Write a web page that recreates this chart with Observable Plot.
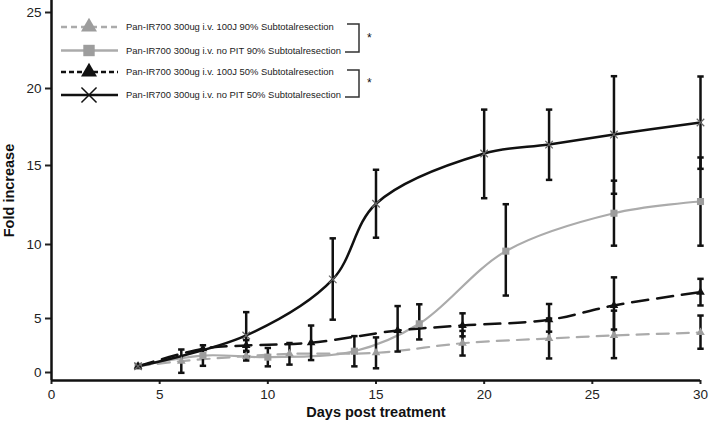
<!DOCTYPE html>
<html><head><meta charset="utf-8">
<script src="https://cdn.jsdelivr.net/npm/d3@7"></script>
<script src="https://cdn.jsdelivr.net/npm/@observablehq/plot@0.6"></script>
<style>
body{margin:0;background:#fff;}
#wrap{position:relative;width:709px;height:429px;font-family:"Liberation Sans",Arial,sans-serif;}
</style></head><body><div id="wrap"></div>
<script>
// ---- data ----
const seriesNames = [
  "Pan-IR700 300ug i.v. 100J 90% Subtotalresection",
  "Pan-IR700 300ug i.v. no PIT 90% Subtotalresection",
  "Pan-IR700 300ug i.v. 100J 50% Subtotalresection",
  "Pan-IR700 300ug i.v. no PIT 50% Subtotalresection"
];
// 100J 90%
const daysA = [4, 6, 9, 11, 15, 19, 23, 26, 30];
const meanA = [0.58, 1.05, 1.51, 1.73, 1.82, 2.71, 3.15, 3.43, 3.7];
const sdA   = [0, 1.08, 0.4, 1.0, 1.43, 1.14, 1.85, 2.1, 1.5];
// no PIT 90%
const daysB = [4, 7, 10, 14, 17, 21, 26, 30];
const meanB = [0.58, 1.57, 1.42, 1.97, 4.51, 9.55, 11.98, 12.72];
const sdB   = [0, 0.95, 0.85, 1.4, 1.45, 3.0, 2.06, 2.8];
// 100J 50%
const daysC = [4, 7, 9, 12, 16, 19, 23, 26, 30];
const meanC = [0.58, 2.2, 2.5, 2.75, 3.89, 4.35, 4.88, 5.88, 6.78];
const sdC   = [0, 0, 0.5, 1.6, 1.95, 1.0, 1.1, 1.9, 0.9];
// no PIT 50%
const daysD = [4, 9, 13, 15, 20, 23, 26, 30];
const meanD = [0.58, 3.43, 7.64, 12.58, 15.78, 16.36, 17.01, 17.79];
const sdD   = [0, 2.0, 2.75, 2.15, 2.85, 2.27, 3.8, 3.0];

const xTicks = [0, 5, 10, 15, 20, 25, 30];
const yTicks = [0, 5, 10, 15, 20, 25];

// ---- build table ----
const raw = [[daysA, meanA, sdA], [daysB, meanB, sdB], [daysC, meanC, sdC], [daysD, meanD, sdD]];
const rows = raw.flatMap(([ds, ms, ss], i) => ds.map((d, j) => ({series: seriesNames[i], day: d, mean: ms[j], sd: ss[j]})));
const bySeries = i => rows.filter(r => r.series === seriesNames[i]);
const withErr = rows.filter(r => r.sd > 0);

// the reference's y axis has uneven tick spacing; reproduce it with a piecewise transform
const yWarp = d3.scaleLinear().domain(yTicks).range([0, 54, 128, 207, 284, 360]);

const GREY = "#ababab", GREYM = "#9d9d9d", BLACK = "#111";
const capSymbol = {draw(ctx, size) { const w = Math.sqrt(size / Math.PI); ctx.moveTo(-w, 0); ctx.lineTo(w, 0); }};

const chart = Plot.plot({
  width: 709, height: 429,
  marginLeft: 51, marginRight: 9, marginTop: 0, marginBottom: 49,
  style: {fontFamily: "Liberation Sans, Arial, sans-serif", color: "#222", background: "#fff"},
  x: {domain: [0, 30]},
  y: {transform: v => yWarp(v), domain: [-8, 372]},
  marks: [
    Plot.axisY({ticks: yTicks.map(yWarp), tickFormat: t => String(Math.round(yWarp.invert(t))), tickSize: 6, tickPadding: 4, fontSize: 13.5, strokeWidth: 2, label: null}),
    Plot.axisX({ticks: xTicks, tickSize: 4, tickPadding: 5, fontSize: 13.5, strokeWidth: 2, label: null}),
    Plot.ruleX([0], {stroke: BLACK, strokeWidth: 2.5}),
    Plot.ruleY([0], {dy: 8, stroke: BLACK, strokeWidth: 2.5}),
    Plot.text(["Fold increase"], {frameAnchor: "left", textAnchor: "middle", rotate: -90, dx: -42, fontWeight: "bold", fontSize: 14.5, fill: "#111"}),
    Plot.text(["Days post treatment"], {frameAnchor: "bottom", lineAnchor: "middle", dy: 32, fontWeight: "bold", fontSize: 14.5, fill: "#111"}),
    // lines
    Plot.line(bySeries(0), {x: "day", y: "mean", stroke: GREY, strokeWidth: 2.2, strokeDasharray: "12,8", curve: "catmull-rom"}),
    Plot.line(bySeries(1), {x: "day", y: "mean", stroke: GREY, strokeWidth: 2.2, curve: "catmull-rom"}),
    Plot.line(bySeries(2), {x: "day", y: "mean", stroke: BLACK, strokeWidth: 2.5, strokeDasharray: "16,9", curve: "catmull-rom"}),
    Plot.line(bySeries(3), {x: "day", y: "mean", stroke: BLACK, strokeWidth: 2.5, curve: "catmull-rom"}),
    // error bars
    Plot.ruleX(withErr, {x: "day", y1: d => d.mean - d.sd, y2: d => d.mean + d.sd, stroke: BLACK, strokeWidth: 2.5}),
    Plot.dot(withErr, {x: "day", y: d => d.mean + d.sd, symbol: capSymbol, r: 3.2, stroke: BLACK, strokeWidth: 2.5}),
    Plot.dot(withErr, {x: "day", y: d => d.mean - d.sd, symbol: capSymbol, r: 3.2, stroke: BLACK, strokeWidth: 2.5}),
    // markers
    Plot.dot(bySeries(0), {x: "day", y: "mean", symbol: "triangle", r: 3.2, fill: GREYM, stroke: "none"}),
    Plot.dot(bySeries(1), {x: "day", y: "mean", symbol: "square", r: 4, fill: GREYM, stroke: "none"}),
    Plot.dot(bySeries(2), {x: "day", y: "mean", symbol: "triangle", r: 3.2, fill: BLACK, stroke: "none"}),
    Plot.dot(bySeries(3), {x: "day", y: "mean", symbol: "times", r: 3.5, stroke: "#666", strokeWidth: 1.2})
  ]
});
const wrap = document.getElementById("wrap");
wrap.appendChild(chart);

// ---- legend overlay ----
const legendStyles = [
  {stroke: GREY, dash: "6,4", sym: d3.symbolTriangle, fill: GREYM, size: 110},
  {stroke: GREY, dash: null, sym: d3.symbolSquare, fill: GREYM, size: 130},
  {stroke: BLACK, dash: "5,3", sym: d3.symbolTriangle, fill: BLACK, size: 110},
  {stroke: BLACK, dash: null, sym: d3.symbolTimes, fill: "none", size: 150}
];
const rowY = [27, 50.5, 72, 95];
const leg = d3.select(wrap).append("svg")
  .attr("width", 400).attr("height", 110)
  .style("position", "absolute").style("left", "0px").style("top", "0px");
const texts = [];
seriesNames.forEach((name, i) => {
  const s = legendStyles[i], y = rowY[i];
  leg.append("line").attr("x1", 61).attr("x2", 118).attr("y1", y).attr("y2", y)
    .attr("stroke", s.stroke).attr("stroke-width", 2.5).attr("stroke-dasharray", s.dash);
  const p = leg.append("path").attr("d", d3.symbol(s.sym, s.size)()).attr("transform", `translate(89,${y})`);
  if (s.fill === "none") p.attr("fill", "none").attr("stroke", BLACK).attr("stroke-width", 1.5);
  else p.attr("fill", s.fill);
  texts.push(leg.append("text").attr("x", 126).attr("y", y).attr("dy", "0.35em")
    .attr("font-size", 10).attr("fill", "#222").attr("font-family", "Liberation Sans, Arial, sans-serif").text(name));
});
// fit the legend text to the reference's width (first row ≈ 208px)
const w0 = texts[0].node().getComputedTextLength();
if (w0 > 0) { const fs = 10 * 208 / w0; texts.forEach(t => t.attr("font-size", fs)); }
[[24, 52, 38], [70, 97, 83]].forEach(([y1, y2, ya]) => {
  leg.append("path").attr("d", `M347,${y1}H359V${y2}H345`).attr("fill", "none").attr("stroke", "#333").attr("stroke-width", 1.5);
  leg.append("text").attr("x", 367).attr("y", ya).attr("dy", "0.35em").attr("font-size", 12).attr("fill", "#111").text("*");
});
</script></body></html>
